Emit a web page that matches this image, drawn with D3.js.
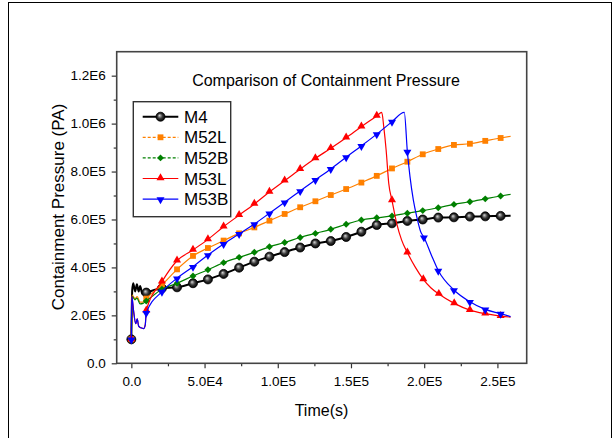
<!DOCTYPE html>
<html>
<head>
<meta charset="utf-8">
<script src="https://cdn.jsdelivr.net/npm/d3@7"></script>
<style>
body { margin: 0; background: #fff; }
text { font-family: "Liberation Sans", Arial, sans-serif; fill: #000; }
</style>
</head>
<body>
<div id="chart"></div>
<script>
// Data: [time (s), pressure (Pa), marker shown]
const chartTitle = "Comparison of Containment Pressure";
const xTitle = "Time(s)";
const yTitle = "Containment Pressure (PA)";

const xTickValues = [0, 5e4, 1e5, 1.5e5, 2e5, 2.5e5];
const xTickLabels = ["0.0", "5.0E4", "1.0E5", "1.5E5", "2.0E5", "2.5E5"];
const xMinorTicks = [2.5e4, 7.5e4, 1.25e5, 1.75e5, 2.25e5];
const yTickValues = [0, 2e5, 4e5, 6e5, 8e5, 1e6, 1.2e6];
const yTickLabels = ["0.0", "2.0E5", "4.0E5", "6.0E5", "8.0E5", "1.0E6", "1.2E6"];
const yMinorTicks = [1e5, 3e5, 5e5, 7e5, 9e5, 1.1e6];

const seriesNames = ["M4", "M52L", "M52B", "M53L", "M53B"];

const m4 = [
  [0, 1.0e5, 1], [600, 3.05e5, 0], [1300, 3.34e5, 0], [2600, 3.0e5, 0], [3800, 3.3e5, 0],
  [5000, 3.0e5, 0], [6000, 3.22e5, 0], [7500, 2.9e5, 0], [10200, 2.95e5, 1],
  [20900, 3.13e5, 1], [31200, 3.17e5, 1], [42100, 3.34e5, 1], [52300, 3.5e5, 1],
  [63000, 3.73e5, 1], [73600, 3.99e5, 1], [84000, 4.24e5, 1], [94300, 4.45e5, 1],
  [104700, 4.64e5, 1], [115300, 4.83e5, 1], [125700, 5.0e5, 1], [136200, 5.1e5, 1],
  [146700, 5.27e5, 1], [157100, 5.49e5, 1], [167600, 5.77e5, 1], [178000, 5.84e5, 1],
  [188500, 5.94e5, 1], [199000, 6.0e5, 1], [209600, 6.08e5, 1], [220300, 6.09e5, 1],
  [231200, 6.12e5, 1], [241700, 6.13e5, 1], [252200, 6.15e5, 1], [259000, 6.16e5, 0]
];

const m52l = [
  [0, 1.0e5, 1], [500, 2.85e5, 0], [2500, 2.7e5, 0], [4000, 2.78e5, 0], [6000, 2.55e5, 0],
  [8000, 2.55e5, 0], [10200, 2.7e5, 1], [20900, 3.27e5, 1], [31200, 3.92e5, 1],
  [42100, 4.48e5, 1], [52300, 4.81e5, 1], [63000, 5.12e5, 1], [73600, 5.42e5, 1],
  [84000, 5.67e5, 1], [94300, 5.95e5, 1], [104700, 6.23e5, 1], [115300, 6.51e5, 1],
  [125700, 6.76e5, 1], [136200, 7.02e5, 1], [146700, 7.27e5, 1], [157100, 7.54e5, 1],
  [167600, 7.82e5, 1], [178000, 8.13e5, 1], [188500, 8.41e5, 1], [199000, 8.72e5, 1],
  [209600, 8.94e5, 1], [220300, 9.11e5, 1], [231200, 9.16e5, 1], [241700, 9.28e5, 1],
  [252200, 9.4e5, 1], [259000, 9.47e5, 0]
];

const m52b = [
  [0, 1.0e5, 1], [500, 2.8e5, 0], [2500, 2.65e5, 0], [3800, 2.72e5, 0], [6000, 2.48e5, 0],
  [8000, 2.5e5, 0], [10200, 2.6e5, 1], [20900, 3.09e5, 1], [31200, 3.34e5, 1],
  [42100, 3.64e5, 1], [52300, 3.9e5, 1], [63000, 4.2e5, 1], [73600, 4.42e5, 1],
  [84000, 4.63e5, 1], [94300, 4.86e5, 1], [104700, 5.04e5, 1], [115300, 5.25e5, 1],
  [125700, 5.42e5, 1], [136200, 5.59e5, 1], [146700, 5.8e5, 1], [157100, 5.98e5, 1],
  [167600, 6.07e5, 1], [178000, 6.15e5, 1], [188500, 6.26e5, 1], [199000, 6.37e5, 1],
  [209600, 6.49e5, 1], [220300, 6.63e5, 1], [231200, 6.74e5, 1], [241700, 6.86e5, 1],
  [252200, 6.98e5, 1], [259000, 7.05e5, 0]
];

const m53l = [
  [0, 1.0e5, 1], [300, 2.8e5, 0], [1500, 2.2e5, 0], [3000, 1.65e5, 0], [4000, 1.85e5, 0],
  [5000, 1.55e5, 0], [6500, 1.48e5, 0], [8500, 1.45e5, 0], [9500, 1.6e5, 0],
  [10200, 2.2e5, 1], [20900, 3.41e5, 1], [31200, 4.28e5, 1], [42100, 4.73e5, 1],
  [52300, 5.17e5, 1], [63000, 5.7e5, 1], [73600, 6.18e5, 1], [84000, 6.65e5, 1],
  [94300, 7.15e5, 1], [104700, 7.62e5, 1], [115300, 8.1e5, 1], [125700, 8.55e5, 1],
  [136200, 8.97e5, 1], [146700, 9.41e5, 1], [157100, 9.87e5, 1], [167600, 1.032e6, 1],
  [171000, 1.047e6, 0], [172500, 9.8e5, 0], [174000, 8.9e5, 0], [175800, 7.5e5, 0],
  [178000, 6.8e5, 1], [181200, 5.84e5, 0], [184600, 5.14e5, 0], [188500, 4.62e5, 1],
  [194000, 4.0e5, 0], [199400, 3.5e5, 1], [204500, 3.15e5, 0], [210000, 2.89e5, 1],
  [220500, 2.5e5, 1], [231200, 2.22e5, 1], [241700, 2.07e5, 1], [252200, 1.97e5, 1],
  [259000, 1.93e5, 0]
];

const m53b = [
  [0, 1.0e5, 1], [300, 2.78e5, 0], [1500, 2.2e5, 0], [3000, 1.65e5, 0], [4000, 1.85e5, 0],
  [5000, 1.55e5, 0], [6500, 1.48e5, 0], [8500, 1.45e5, 0], [9500, 1.6e5, 0],
  [10200, 2.11e5, 1], [20900, 2.99e5, 1], [31200, 3.55e5, 1], [42100, 4.03e5, 1],
  [52300, 4.52e5, 1], [63000, 4.98e5, 1], [73600, 5.4e5, 1], [84000, 5.81e5, 1],
  [94300, 6.26e5, 1], [104700, 6.72e5, 1], [115300, 7.19e5, 1], [125700, 7.65e5, 1],
  [136200, 8.11e5, 1], [146700, 8.6e5, 1], [157100, 9.07e5, 1], [167600, 9.56e5, 1],
  [178000, 1.008e6, 1], [186400, 1.047e6, 0], [188500, 8.83e5, 1], [190300, 7.79e5, 0],
  [192600, 6.81e5, 0], [194900, 6.12e5, 0], [197600, 5.49e5, 0], [199800, 5.26e5, 1],
  [205000, 4.5e5, 0], [209600, 3.87e5, 1], [220300, 3.06e5, 1], [231200, 2.57e5, 1],
  [241700, 2.25e5, 1], [252200, 2.07e5, 1], [259000, 1.95e5, 0]
];

const seriesData = [m4, m52l, m52b, m53l, m53b];

// Styles
const colors = ["#000000", "#ff8000", "#008000", "#ff0000", "#0000ff"];
const lineWidths = [2, 1.2, 1.2, 1.2, 1.2];
const legendDash = [null, "3,2", "3,2", null, null];

// Layout
const W = 613, H = 438;
const plot = { left: 116.7, right: 526.7, top: 51.7, bottom: 363.3 };

const svg = d3.select("#chart")
    .append("svg")
    .attr("width", W)
    .attr("height", H);

const defs = svg.append("defs");
const grad = defs.append("radialGradient")
    .attr("id", "ball")
    .attr("cx", "50%").attr("cy", "50%").attr("r", "50%")
    .attr("fx", "38%").attr("fy", "35%");
grad.append("stop").attr("offset", "0%").attr("stop-color", "#d8d8d8");
grad.append("stop").attr("offset", "55%").attr("stop-color", "#3a3a3a");
grad.append("stop").attr("offset", "100%").attr("stop-color", "#000");

// outer page frame
svg.append("rect")
    .attr("x", 8.5).attr("y", 2.5)
    .attr("width", 603).attr("height", 445)
    .attr("fill", "none")
    .attr("stroke", "#000")
    .attr("stroke-width", 1);

// Scales
const x = d3.scaleLinear().domain([-1e4, 2.7e5]).range([plot.left, plot.right]);
const y = d3.scaleLinear().domain([0, 1.3e6]).range([plot.bottom, plot.top]);

// Axes
const xAxis = d3.axisBottom(x)
    .tickValues(xTickValues)
    .tickFormat((d, i) => xTickLabels[i])
    .tickSize(5).tickSizeOuter(0).tickPadding(8);
const xMinor = d3.axisBottom(x).tickValues(xMinorTicks).tickFormat("").tickSize(3).tickSizeOuter(0);
const yAxis = d3.axisLeft(y)
    .tickValues(yTickValues)
    .tickFormat((d, i) => yTickLabels[i])
    .tickSize(5).tickSizeOuter(0).tickPadding(6);
const yMinor = d3.axisLeft(y).tickValues(yMinorTicks).tickFormat("").tickSize(3).tickSizeOuter(0);

function styleAxis(g) {
    g.select(".domain").remove();
    g.selectAll(".tick line").attr("stroke", "#333").attr("stroke-width", 1.2);
    g.selectAll(".tick text")
        .attr("font-size", 13.5)
        .attr("font-family", "'Liberation Sans', Arial, sans-serif")
        .attr("fill", "#111");
}

svg.append("g").attr("transform", `translate(0,${plot.bottom})`).call(xAxis).call(styleAxis);
svg.append("g").attr("transform", `translate(0,${plot.bottom})`).call(xMinor).call(styleAxis);
svg.append("g").attr("transform", `translate(${plot.left},0)`).call(yAxis).call(styleAxis);
svg.append("g").attr("transform", `translate(${plot.left},0)`).call(yMinor).call(styleAxis);

// plot frame
svg.append("rect")
    .attr("x", plot.left).attr("y", plot.top)
    .attr("width", plot.right - plot.left)
    .attr("height", plot.bottom - plot.top)
    .attr("fill", "none")
    .attr("stroke", "#444")
    .attr("stroke-width", 1.6);

// Marker shapes
function drawMarker(sel, i, cx, cy) {
    const c = colors[i];
    if (i === 0) {
        sel.append("circle").attr("cx", cx).attr("cy", cy).attr("r", 4.5)
            .attr("fill", "url(#ball)").attr("stroke", "#000").attr("stroke-width", 0.8);
    } else if (i === 1) {
        sel.append("path").attr("d", d3.symbol(d3.symbolSquare, 34)())
            .attr("transform", `translate(${cx},${cy})`).attr("fill", c);
    } else if (i === 2) {
        sel.append("path").attr("d", d3.symbol(d3.symbolSquare, 24)())
            .attr("transform", `translate(${cx},${cy}) rotate(45)`).attr("fill", c);
    } else if (i === 3) {
        sel.append("path").attr("d", d3.symbol(d3.symbolTriangle, 28)())
            .attr("transform", `translate(${cx},${cy - 0.5})`).attr("fill", c);
    } else {
        sel.append("path").attr("d", d3.symbol(d3.symbolTriangle, 28)())
            .attr("transform", `translate(${cx},${cy + 0.5}) rotate(180)`).attr("fill", c);
    }
}

// Lines and markers
const line = d3.line()
    .x(d => x(d[0]))
    .y(d => y(d[1]))
    .curve(d3.curveMonotoneX);

seriesData.forEach((data, i) => {
    const g = svg.append("g");
    g.append("path")
        .datum(data)
        .attr("fill", "none")
        .attr("stroke", colors[i])
        .attr("stroke-width", lineWidths[i])
        .attr("stroke-linejoin", "round")
        .attr("d", line);
    data.filter(d => d[2]).forEach(d => drawMarker(g, i, x(d[0]), y(d[1])));
});

// Title and axis titles
svg.append("text")
    .attr("x", 326).attr("y", 85.5)
    .attr("text-anchor", "middle")
    .attr("font-size", 16)
    .text(chartTitle);

svg.append("text")
    .attr("x", 321.5).attr("y", 416)
    .attr("text-anchor", "middle")
    .attr("font-size", 16)
    .text(xTitle);

svg.append("text")
    .attr("transform", "translate(64,207) rotate(-90)")
    .attr("text-anchor", "middle")
    .attr("font-size", 17)
    .text(yTitle);

// Legend
const legend = svg.append("g");
legend.append("rect")
    .attr("x", 133.3).attr("y", 101.7)
    .attr("width", 97.4).attr("height", 115)
    .attr("fill", "#fff")
    .attr("stroke", "#333")
    .attr("stroke-width", 1.4);

seriesNames.forEach((name, i) => {
    const ly = 116.7 + i * 20.6;
    legend.append("line")
        .attr("x1", 142.7).attr("x2", 178.3)
        .attr("y1", ly).attr("y2", ly)
        .attr("stroke", colors[i])
        .attr("stroke-width", lineWidths[i])
        .attr("stroke-dasharray", legendDash[i]);
    drawMarker(legend, i, 160.5, ly);
    legend.append("text")
        .attr("x", 184).attr("y", ly)
        .attr("dy", "0.36em")
        .attr("font-size", 17)
        .text(name);
});
</script>
</body>
</html>
